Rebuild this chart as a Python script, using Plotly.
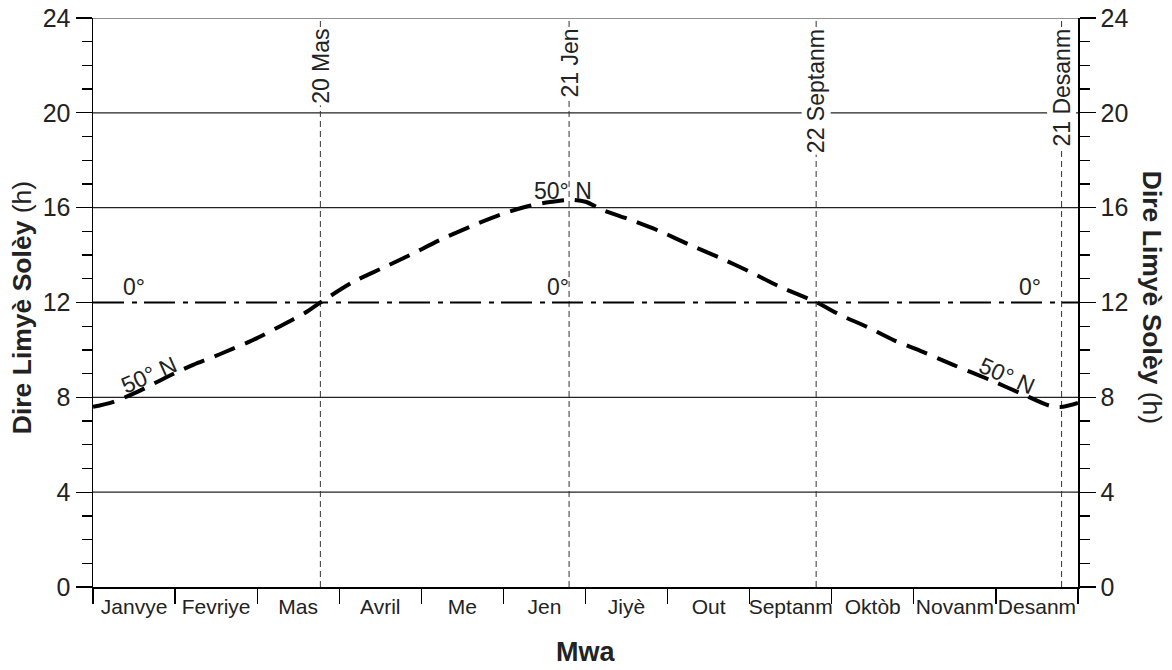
import plotly.graph_objects as go

# ---------------- data ----------------
months = ["Janvye", "Fevriye", "Mas", "Avril", "Me", "Jen",
          "Jiyè", "Out", "Septanm", "Oktòb", "Novanm", "Desanm"]
month_centers = [i + 0.5 for i in range(12)]
month_bounds = list(range(13))

hour_ticks = [0, 4, 8, 12, 16, 20, 24]
grid_hours = [4, 8, 16, 20, 24]

# 50° N daylight (month position, hours)
pos_50n = [0.0, 0.24, 0.54, 0.90, 1.22, 1.58, 1.95, 2.28, 2.61, 2.77,
           3.17, 3.53, 3.86, 4.23, 4.59, 4.96, 5.32, 5.57, 5.81, 6.00,
           6.21, 6.54, 6.91, 7.27, 7.64, 8.00, 8.37, 8.82, 9.10, 9.43,
           9.75, 10.11, 10.48, 10.93, 11.29, 11.66, 11.82, 12.0]
hours_50n = [7.6, 7.8, 8.23, 8.86, 9.37, 9.87, 10.42, 11.0, 11.62, 12.0,
             12.87, 13.46, 14.0, 14.64, 15.19, 15.70, 16.08, 16.24, 16.33, 16.25,
             15.9, 15.5, 15.0, 14.43, 13.88, 13.3, 12.66, 12.0, 11.48, 10.97,
             10.42, 9.92, 9.37, 8.73, 8.19, 7.64, 7.6, 7.76]

# equator (0°)
pos_eq = [0, 12]
hours_eq = [12, 12]

# solstice / equinox markers
marker_labels = ["20 Mas", "21 Jen", "22 Septanm", "21 Desanm"]
marker_pos = [2.77, 5.80, 8.81, 11.80]

# curve labels
eq_label_pos = [0.5, 5.67, 11.42]
n50_label_pos = [0.68, 5.72, 11.14]
n50_label_hours = [8.95, 16.71, 8.9]
n50_label_angle = [-24, 0, 24]

FONT = "Liberation Sans, Arial, Helvetica, sans-serif"

fig = go.Figure()

for lab, p in zip(marker_labels, marker_pos):
    fig.add_trace(go.Scatter(x=[p, p], y=[0, 24], mode="lines",
                             line=dict(color="#333333", width=1, dash="6px,4px"),
                             hoverinfo="skip", showlegend=False))

fig.add_trace(go.Scatter(x=pos_eq, y=hours_eq, mode="lines", yaxis="y2",
                         line=dict(color="black", width=2.2, dash="31px,8px,5px,7px"),
                         hoverinfo="skip", showlegend=False))

fig.add_trace(go.Scatter(x=pos_50n, y=hours_50n, mode="lines",
                         line=dict(color="black", width=4, dash="22px,11px",
                                   shape="spline", smoothing=0.8),
                         hoverinfo="skip", showlegend=False))

shapes = []
for h in grid_hours:
    shapes.append(dict(type="line", xref="paper", x0=0, x1=1, yref="y", y0=h, y1=h,
                       line=dict(color="#222222", width=1.2), layer="below"))

annotations = []
for lab, p in zip(marker_labels, marker_pos):
    annotations.append(dict(x=p, y=24, xref="x", yref="y", text=lab, textangle=-90,
                            showarrow=False, xanchor="center", yanchor="top", yshift=-9,
                            bgcolor="white", borderpad=1,
                            font=dict(size=23, color="#222222", family=FONT)))
for p in eq_label_pos:
    annotations.append(dict(x=p, y=12, xref="x", yref="y", text="0°", showarrow=False,
                            xanchor="center", yanchor="bottom", yshift=1,
                            font=dict(size=23, color="#222222", family=FONT)))
for p, h, a in zip(n50_label_pos, n50_label_hours, n50_label_angle):
    annotations.append(dict(x=p, y=h, xref="x", yref="y", text="50° N", textangle=a,
                            showarrow=False, xanchor="center", yanchor="middle",
                            font=dict(size=23, color="#222222", family=FONT)))

annotations.append(dict(x=0, y=0.49, xref="paper", yref="paper", xshift=-71,
                        text="<b>Dire Limyè Solèy</b> (h)", textangle=-90, showarrow=False,
                        xanchor="center", yanchor="middle",
                        font=dict(size=26.5, color="#222222", family=FONT)))
annotations.append(dict(x=1, y=0.51, xref="paper", yref="paper", xshift=74,
                        text="<b>Dire Limyè Solèy</b> (h)", textangle=90, showarrow=False,
                        xanchor="center", yanchor="middle",
                        font=dict(size=26.5, color="#222222", family=FONT)))
annotations.append(dict(x=0.5, y=0, xref="paper", yref="paper", yshift=-65,
                        text="<b>Mwa</b>", showarrow=False,
                        xanchor="center", yanchor="middle",
                        font=dict(size=27, color="#222222", family=FONT)))

yaxis_common = dict(range=[0, 24], tickmode="array", tickvals=hour_ticks,
                    ticks="outside", ticklen=16, tickwidth=1.3, tickcolor="black",
                    showgrid=False, zeroline=False, showline=True, linecolor="black",
                    linewidth=1.5, tickfont=dict(size=25, color="#222222", family=FONT),
                    ticklabeloverflow="allow",
                    minor=dict(dtick=1, tick0=0, ticks="outside", ticklen=10,
                               tickwidth=1.3, tickcolor="black", showgrid=False),
                    automargin=False, fixedrange=True)

fig.update_layout(
    width=1172, height=670,
    margin=dict(l=93, r=94, t=18, b=83, autoexpand=False),
    paper_bgcolor="white", plot_bgcolor="white",
    showlegend=False,
    xaxis=dict(range=[0, 12], tickmode="array", tickvals=month_centers, ticktext=months,
               ticks="", showgrid=False, zeroline=False, showline=True,
               linecolor="black", linewidth=1.5, tickangle=0,
               tickfont=dict(size=21, color="#222222", family=FONT),
               ticklabelstandoff=0, ticklabeloverflow="allow",
               automargin=False, fixedrange=True,
               minor=dict(tickmode="array", tickvals=month_bounds, ticks="outside",
                          ticklen=15, tickwidth=1.3, tickcolor="black", showgrid=False)),
    yaxis=dict(**yaxis_common, side="left"),
    yaxis2=dict(**yaxis_common, side="right", overlaying="y"),
    shapes=shapes,
    annotations=annotations,
)

# remove the default page margin so the figure fills the window exactly
fig.write_html("out.html",
               config={"displayModeBar": False, "staticPlot": True},
               post_script="document.body.style.margin='0';document.body.style.overflow='hidden';")
